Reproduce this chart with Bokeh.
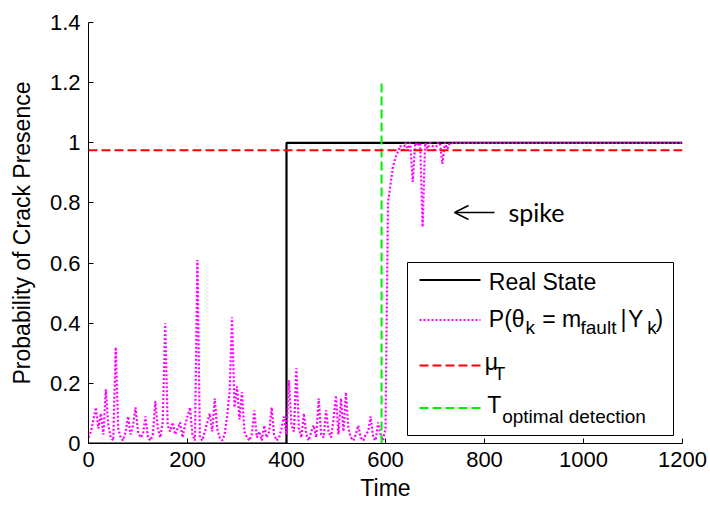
from bokeh.plotting import figure
from bokeh.models import Range1d, FixedTicker, Span, Arrow, OpenHead
from bokeh.core.properties import value
from bokeh.embed import file_html
from bokeh.resources import INLINE

# ---------------- data ----------------
state_time = [0, 400, 400, 1200]
state_value = [0, 0, 1, 1]

prob_time = list(range(0, 735, 5)) + [1200]
prob_value = [
    0.02, 0.04, 0.08, 0.12, 0.05, 0.10, 0.03, 0.18, 0.06, 0.02,   # 0-45
    0.01, 0.32, 0.05, 0.02, 0.01, 0.04, 0.09, 0.03, 0.06, 0.12,   # 50-95
    0.04, 0.02, 0.03, 0.09, 0.02, 0.01, 0.03, 0.14, 0.05, 0.02,   # 100-145
    0.07, 0.40, 0.06, 0.04, 0.07, 0.03, 0.05, 0.07, 0.02, 0.06,   # 150-195
    0.09, 0.12, 0.03, 0.01, 0.61, 0.02, 0.01, 0.04, 0.07, 0.10,   # 200-245
    0.04, 0.15, 0.05, 0.02, 0.01, 0.03, 0.09, 0.17, 0.42, 0.12,   # 250-295
    0.19, 0.08, 0.17, 0.04, 0.02, 0.01, 0.03, 0.11, 0.02, 0.04,   # 300-345
    0.01, 0.06, 0.02, 0.04, 0.12, 0.03, 0.01, 0.02, 0.05, 0.09,   # 350-395
    0.03, 0.21, 0.06, 0.04, 0.25, 0.05, 0.02, 0.10, 0.03, 0.01,   # 400-445
    0.04, 0.06, 0.02, 0.15, 0.03, 0.02, 0.11, 0.04, 0.02, 0.08,   # 450-495
    0.16, 0.03, 0.15, 0.04, 0.17, 0.05, 0.02, 0.01, 0.03, 0.06,   # 500-545
    0.02, 0.01, 0.03, 0.04, 0.09, 0.02, 0.01, 0.07, 0.03, 0.01,   # 550-595
    0.05,                                                         # 600
    0.80, 0.86, 0.92, 0.95, 0.97, 0.99, 0.97, 1.00, 0.98, 1.00,   # 605-650
    0.87, 1.00, 0.99, 1.00, 0.72, 1.00, 0.98, 1.00, 0.99, 0.97,   # 655-700
    1.00, 1.00, 0.93, 1.00, 0.98, 1.00,                           # 705-730
    1.00,                                                         # 1200
]

mu_T = 0.975
t_opt = 592
t_opt_top = 1.2

x_ticks = [0, 200, 400, 600, 800, 1000, 1200]
y_ticks = [0, 0.2, 0.4, 0.6, 0.8, 1.0, 1.2, 1.4]
y_tick_labels = ["0", "0.2", "0.4", "0.6", "0.8", "1", "1.2", "1.4"]

# ---------------- layout helpers (pixel -> data, for decorations) ----------------
FL, FR, FT, FB = 88, 682, 22, 443
X0, X1, Y0, Y1 = 0, 1200, 0, 1.4
TXT_SHIFT = 9  # correction of the rendered baseline, px


def dx(px):
    return X0 + (px - FL) * (X1 - X0) / (FR - FL)


def dy(py):
    return Y0 + (FB - py) * (Y1 - Y0) / (FB - FT)


def dyt(py):
    return dy(py - TXT_SHIFT)


FONT = "Liberation Sans"

p = figure(width=710, height=509, output_backend="svg", toolbar_location=None,
           x_range=Range1d(X0, X1), y_range=Range1d(Y0, Y1),
           min_border_left=FL, min_border_right=710 - FR,
           min_border_top=FT, min_border_bottom=509 - FB)
p.outline_line_color = None
p.grid.visible = False
p.background_fill_color = "white"
p.border_fill_color = "white"

for ax in (p.xaxis[0], p.yaxis[0]):
    ax.major_tick_in = 5
    ax.major_tick_out = 0
    ax.minor_tick_line_color = None
    ax.axis_line_color = "black"
    ax.axis_line_width = 1
    ax.major_tick_line_color = "black"
    ax.major_label_text_font = FONT
    ax.major_label_text_font_size = "22px"
    ax.major_label_text_color = "black"
    ax.axis_label_text_font = FONT
    ax.axis_label_text_font_size = "23px"
    ax.axis_label_text_font_style = "normal"
    ax.axis_label_text_color = "black"

p.xaxis.ticker = FixedTicker(ticks=x_ticks)
p.yaxis.ticker = FixedTicker(ticks=y_ticks)
p.yaxis.major_label_overrides = {t: l for t, l in zip(y_ticks, y_tick_labels)}
p.xaxis.major_label_overrides = {t: str(t) for t in x_ticks}
p.xaxis.axis_label = "Time"
p.yaxis.axis_label = "Probability of Crack Presence"
p.xaxis.major_label_standoff = 8
p.xaxis.axis_label_standoff = 5
p.yaxis.major_label_standoff = 8
p.yaxis.axis_label_standoff = 12

# ---------------- series ----------------
p.line(state_time, state_value, line_color="black", line_width=2.2)
p.line(prob_time, prob_value, line_color="#FF00FF", line_width=2.2, line_dash="2 2")
p.add_layout(Span(location=mu_T, dimension="width", line_color="#FF0000",
                  line_width=2, line_dash="9 4"))
p.segment(x0=[t_opt], y0=[0], x1=[t_opt], y1=[t_opt_top],
          line_color="#00EE00", line_width=2, line_dash="9 4")

# ---------------- spike annotation ----------------
p.add_layout(Arrow(end=OpenHead(size=14, line_width=1.5, line_color="black"),
                   x_start=dx(494), y_start=dy(212), x_end=dx(454), y_end=dy(212),
                   line_width=1.5, line_color="black"))
p.text(x=[dx(508)], y=[dyt(220)], text=["spike"], text_font=value("Lato"),
       text_font_size="25px", text_color="black", text_baseline="alphabetic",
       text_align="left")

# ---------------- legend (drawn manually for subscripts) ----------------
p.quad(left=[dx(407)], right=[dx(673)], top=[dy(262)], bottom=[dy(435)],
       fill_color="white", line_color="black", line_width=1)
lx0, lx1 = dx(419), dx(480)
p.segment(x0=[lx0], y0=[dy(279.5)], x1=[lx1], y1=[dy(279.5)], line_color="black", line_width=2.2)
p.segment(x0=[lx0], y0=[dy(319.5)], x1=[lx1], y1=[dy(319.5)], line_color="#FF00FF",
          line_width=2.2, line_dash="2 2")
p.segment(x0=[lx0], y0=[dy(365)], x1=[lx1], y1=[dy(365)], line_color="#FF0000",
          line_width=2, line_dash="9 4")
p.segment(x0=[lx0], y0=[dy(407.5)], x1=[lx1], y1=[dy(407.5)], line_color="#00EE00",
          line_width=2, line_dash="9 4")

main_txt = [("Real State", 488.3, 290), ("P(θ", 488.3, 327.3), ("= m", 541.7, 327.3),
            ("|", 620, 327.3), ("Y", 627.5, 327.3), (")", 655, 327.3),
            ("μ", 484.3, 370), ("T", 486.7, 413)]
sub_txt = [("k", 525, 336), ("fault", 580, 336), ("k", 646.7, 336),
           ("T", 493.3, 381.7), ("optimal detection", 501.7, 425)]
p.text(x=[dx(a[1]) for a in main_txt], y=[dyt(a[2]) for a in main_txt],
       text=[a[0] for a in main_txt], text_font=value(FONT), text_font_size="23px",
       text_color="black", text_baseline="alphabetic", text_align="left")
p.text(x=[dx(a[1]) for a in sub_txt], y=[dyt(a[2]) for a in sub_txt],
       text=[a[0] for a in sub_txt], text_font=value(FONT), text_font_size="19px",
       text_color="black", text_baseline="alphabetic", text_align="left")

open("out.html", "w").write(file_html(p, INLINE))
